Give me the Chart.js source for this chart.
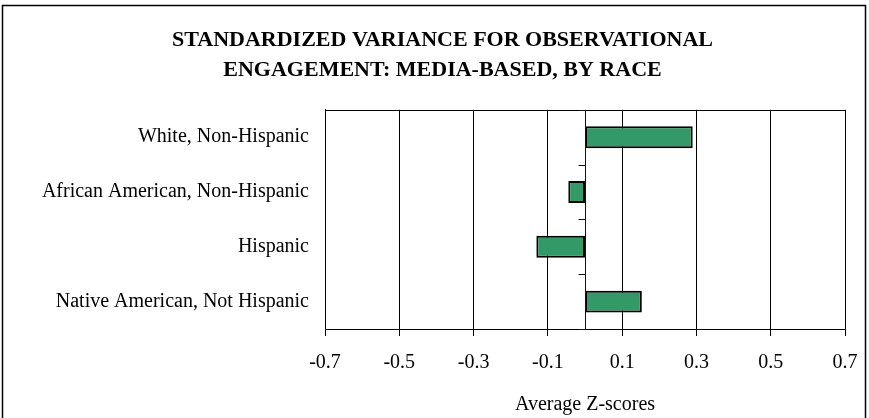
<!DOCTYPE html>
<html>
<head>
<meta charset="utf-8">
<script src="https://cdn.jsdelivr.net/npm/chart.js@4"></script>
<style>
  html, body { margin: 0; padding: 0; background: #fff; }
  #wrap { width: 869px; height: 418px; position: relative; }
</style>
</head>
<body>
<div id="wrap"><canvas id="mainChart"></canvas></div>
<script>
// --- DADOS ---
const categories = [
    'White, Non-Hispanic',
    'African American, Non-Hispanic',
    'Hispanic',
    'Native American, Not Hispanic'
];
const zScores = [0.29, -0.045, -0.131, 0.153];
const xTicks = [-0.7, -0.5, -0.3, -0.1, 0.1, 0.3, 0.5, 0.7];
const titleLines = ['STANDARDIZED VARIANCE FOR OBSERVATIONAL', 'ENGAGEMENT: MEDIA-BASED, BY RACE'];
const xAxisTitle = 'Average Z-scores';

const serif = "'Liberation Serif', 'DejaVu Serif', serif";

// moldura externa, borda da área do gráfico e eixo do zero com marcas
const framePlugin = {
    id: 'framePlugin',
    afterDraw(chart) {
        const ctx = chart.ctx;
        const area = chart.chartArea;
        const x = chart.scales.x;
        const y = chart.scales.y;
        ctx.save();
        ctx.strokeStyle = '#000';
        ctx.lineWidth = 1.5;
        ctx.strokeRect(2.5, 5.5, 863, 430);

        ctx.lineWidth = 1;
        ctx.strokeRect(Math.round(area.left) + 0.5, Math.round(area.top) + 0.5,
            Math.round(area.right - area.left), Math.round(area.bottom - area.top));

        const x0 = Math.round(x.getPixelForValue(0)) + 0.5;
        ctx.strokeStyle = '#111';
        ctx.beginPath();
        ctx.moveTo(x0, area.top);
        ctx.lineTo(x0, area.bottom);
        for (let i = 0; i <= categories.length; i++) {
            const yy = Math.round(y.getPixelForValue(i - 0.5)) + 0.5;
            ctx.moveTo(x0 - 7, yy);
            ctx.lineTo(x0, yy);
        }
        ctx.stroke();
        ctx.restore();
    }
};

new Chart(document.getElementById('mainChart').getContext('2d'), {
    type: 'bar',
    data: {
        labels: categories,
        datasets: [{
            data: zScores,
            backgroundColor: '#339966',
            borderColor: '#000',
            borderWidth: 2,
            borderSkipped: false,
            categoryPercentage: 1,
            barPercentage: 0.40
        }]
    },
    options: {
        indexAxis: 'y',
        responsive: true,
        maintainAspectRatio: false,
        animation: false,
        layout: { padding: { left: 40, right: 24, top: 0, bottom: 0 } },
        plugins: {
            legend: { display: false },
            tooltip: { enabled: false },
            title: {
                display: true,
                text: titleLines,
                color: '#000',
                font: { family: serif, size: 22, weight: 'bold', lineHeight: 1.36 },
                padding: { top: 25, bottom: 25 }
            }
        },
        scales: {
            x: {
                type: 'linear',
                min: -0.7,
                max: 0.7,
                afterBuildTicks(scale) {
                    scale.ticks = xTicks.map(v => ({ value: v }));
                },
                afterFit(scale) {
                    // o rótulo 0.7 pode passar da área do gráfico
                    scale.paddingRight = 0;
                    scale.paddingLeft = 0;
                },
                grid: {
                    color: '#000',
                    lineWidth: 1,
                    drawTicks: true,
                    tickLength: 7,
                    tickColor: '#000'
                },
                border: { color: '#000', width: 1 },
                ticks: {
                    color: '#000',
                    padding: 15,
                    maxRotation: 0,
                    font: { family: serif, size: 20 },
                    callback: v => v.toFixed(1)
                },
                title: {
                    display: true,
                    text: xAxisTitle,
                    color: '#000',
                    font: { family: serif, size: 20 },
                    padding: { top: 3, bottom: 1 }
                }
            },
            y: {
                afterFit(scale) { scale.width = 285; },
                grid: { display: false, drawTicks: false },
                border: { color: '#000', width: 1 },
                ticks: {
                    color: '#000',
                    padding: 16,
                    font: { family: serif, size: 20 }
                }
            }
        }
    },
    plugins: [framePlugin]
});
</script>
</body>
</html>
